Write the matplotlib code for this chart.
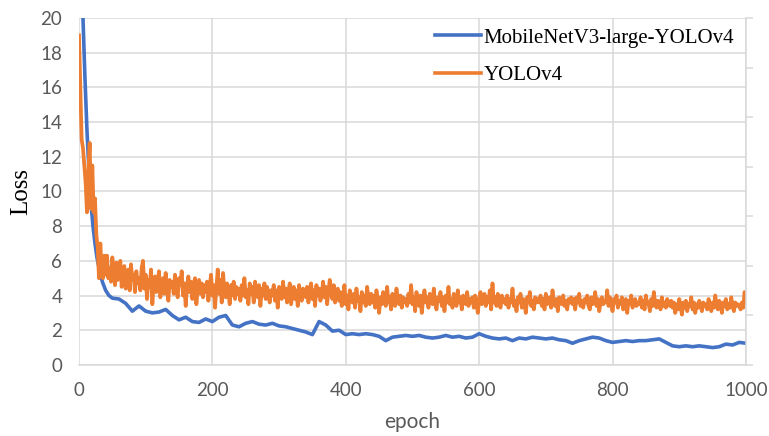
import numpy as np
import matplotlib.pyplot as plt

# --- loss curves ---
mnv3_epoch_head = [0, 3, 6, 9, 12, 15, 18, 21, 24, 27, 30, 35, 40, 45]
mnv3_loss_head = [28, 23, 20, 16.5, 13.5, 11.2, 9.3, 8.0, 7.0, 6.2, 5.6, 4.8, 4.3, 4.0]
# every 10 epochs from 50 to 1000
mnv3_loss_tail = [
    3.85, 3.8, 3.55, 3.1, 3.4, 3.1, 3.0, 3.05, 3.2, 2.85,
    2.6, 2.75, 2.5, 2.45, 2.65, 2.5, 2.75, 2.85, 2.3, 2.2,
    2.4, 2.5, 2.35, 2.3, 2.4, 2.25, 2.2, 2.1, 2.0, 1.9,
    1.75, 2.5, 2.3, 1.95, 2.0, 1.75, 1.8, 1.75, 1.8, 1.75,
    1.65, 1.4, 1.6, 1.65, 1.7, 1.65, 1.7, 1.6, 1.55, 1.6,
    1.7, 1.6, 1.65, 1.55, 1.6, 1.8, 1.65, 1.55, 1.5, 1.55,
    1.4, 1.55, 1.5, 1.6, 1.55, 1.5, 1.55, 1.45, 1.4, 1.25,
    1.4, 1.5, 1.6, 1.55, 1.4, 1.3, 1.35, 1.4, 1.35, 1.4,
    1.4, 1.45, 1.5, 1.3, 1.1, 1.05, 1.1, 1.05, 1.1, 1.05,
    1.0, 1.05, 1.2, 1.15, 1.3, 1.25,
]

yolo_epoch_head = [0, 2, 4, 6, 8, 10, 12, 14, 16, 18, 20, 22, 24, 26, 28, 30, 32, 34, 36, 38]
yolo_loss_head = [19.0, 16.0, 13.0, 12.5, 11.5, 10.5, 8.8, 11.0, 12.8, 9.0,
                  11.5, 8.8, 9.6, 7.5, 6.8, 5.0, 7.0, 5.5, 5.0, 6.3]
# every 2 epochs from 40 to 1000, one row = 50 epochs
yolo_loss_tail = [
    5.2, 6.3, 5.0, 5.6, 4.8, 6.2, 5.4, 4.6, 5.9, 4.9, 5.3, 6.0, 4.5, 5.1, 5.7, 4.4, 5.0, 5.5, 4.3, 5.8, 4.9, 5.2, 4.2, 5.4, 4.7,
    5.0, 4.3, 5.6, 6.0, 4.4, 5.2, 3.8, 4.9, 4.5, 5.5, 3.5, 4.7, 5.1, 4.2, 4.8, 5.4, 3.9, 4.6, 5.0, 4.1, 5.3, 4.4, 3.7, 4.9, 4.5,
    4.8, 4.1, 5.2, 4.4, 3.9, 5.0, 4.6, 5.4, 4.0, 4.7, 3.4, 4.5, 5.1, 4.2, 4.8, 3.8, 4.6, 5.0, 3.5, 4.4, 4.9, 4.1, 4.7, 3.9, 4.6,
    4.2, 4.8, 3.7, 4.5, 5.2, 4.0, 4.6, 3.3, 4.4, 5.5, 4.1, 4.9, 3.6, 5.3, 4.3, 3.9, 4.7, 4.2, 3.5, 4.6, 4.0, 4.8, 3.8, 4.5, 4.1,
    4.4, 3.7, 4.6, 4.0, 5.0, 3.9, 4.3, 3.5, 4.7, 4.1, 4.5, 3.6, 4.8, 4.2, 3.9, 4.6, 3.4, 4.4, 4.0, 4.7, 3.8, 4.5, 4.1, 3.6, 4.3,
    4.0, 4.6, 3.7, 4.3, 3.3, 4.5, 4.1, 3.8, 4.8, 3.9, 4.4, 3.6, 4.2, 4.7, 3.5, 4.0, 4.5, 3.8, 4.3, 3.4, 4.6, 4.0, 3.7, 4.4, 4.1,
    3.9, 4.5, 3.6, 4.2, 4.7, 3.8, 4.3, 3.4, 4.6, 4.0, 4.4, 3.7, 4.1, 4.8, 3.9, 4.5, 3.5, 4.2, 4.9, 4.3, 3.8, 4.6, 3.6, 4.1, 4.4,
    3.7, 4.2, 3.4, 3.9, 4.6, 3.5, 4.0, 3.2, 4.3, 3.8, 3.6, 4.1, 3.3, 4.4, 3.7, 3.9, 3.1, 4.2, 3.6, 4.0, 3.4, 4.5, 3.8, 3.5, 4.1,
    3.6, 4.0, 3.3, 4.3, 3.8, 3.0, 3.9, 3.5, 4.2, 3.7, 3.4, 4.5, 3.6, 3.9, 3.2, 4.1, 3.7, 3.4, 4.4, 3.8, 3.5, 4.0, 3.3, 3.9, 3.6,
    3.8, 3.4, 4.1, 3.6, 4.6, 3.5, 3.9, 3.1, 4.2, 3.7, 3.4, 4.0, 3.0, 3.8, 4.3, 3.6, 3.9, 3.3, 4.1, 3.7, 3.5, 4.4, 3.6, 3.2, 3.9,
    3.7, 4.2, 3.4, 3.9, 3.1, 4.0, 3.6, 4.5, 3.5, 3.8, 3.3, 4.1, 3.7, 3.4, 4.3, 3.6, 3.9, 3.2, 4.0, 3.7, 3.5, 4.2, 3.4, 3.8, 3.6,
    3.9, 3.3, 4.0, 3.6, 3.0, 3.8, 4.2, 3.5, 3.7, 4.1, 3.4, 3.9, 3.6, 4.3, 3.2, 4.7, 3.6, 3.9, 3.4, 4.1, 3.7, 3.3, 4.0, 3.6, 3.8,
    3.5, 4.0, 3.3, 3.8, 3.6, 4.4, 3.4, 3.7, 3.1, 3.9, 3.6, 4.1, 3.3, 3.8, 3.5, 3.0, 3.9, 3.6, 4.2, 3.4, 3.7, 3.2, 3.9, 3.6, 3.8,
    3.6, 4.0, 3.4, 3.8, 3.2, 4.1, 3.5, 3.7, 3.9, 3.3, 4.3, 3.6, 3.4, 3.8, 3.1, 3.9, 3.7, 3.5, 4.0, 3.4, 3.7, 3.2, 3.8, 3.6, 3.9,
    3.5, 3.8, 3.2, 3.9, 3.6, 4.1, 3.4, 3.7, 3.3, 3.8, 3.6, 4.0, 3.4, 3.2, 3.9, 3.5, 3.7, 4.2, 3.4, 3.8, 3.1, 3.6, 3.9, 3.5, 3.7,
    3.6, 4.3, 3.4, 3.9, 3.5, 3.1, 3.8, 3.6, 4.0, 3.3, 3.7, 3.5, 3.9, 3.2, 3.6, 3.8, 3.0, 3.7, 3.5, 4.0, 3.3, 3.6, 3.8, 3.4, 3.6,
    3.5, 3.9, 3.3, 3.7, 3.2, 4.0, 3.5, 3.6, 3.1, 3.8, 3.4, 4.2, 3.5, 3.3, 3.7, 3.6, 3.2, 3.9, 3.4, 3.6, 3.3, 3.8, 3.5, 3.4, 3.7,
    3.3, 3.6, 3.0, 3.5, 3.2, 3.8, 3.4, 2.9, 3.6, 3.3, 3.7, 3.1, 3.5, 3.4, 3.9, 3.2, 3.6, 3.0, 3.5, 3.3, 3.7, 3.4, 3.1, 3.6, 3.4,
    3.5, 3.2, 3.8, 3.4, 3.1, 3.6, 3.3, 4.0, 3.4, 3.2, 3.7, 3.5, 3.0, 3.6, 3.4, 3.8, 3.2, 3.5, 3.3, 3.9, 3.4, 3.1, 3.6, 3.4, 3.5,
    3.4, 3.2, 3.6, 3.3, 4.2, 3.6,
]

mnv3_epoch = np.concatenate([mnv3_epoch_head, np.arange(50, 1001, 10)])
mnv3_loss = np.array(mnv3_loss_head + mnv3_loss_tail)
yolo_epoch = np.concatenate([yolo_epoch_head, np.arange(40, 1001, 2)])
yolo_loss = np.array(yolo_loss_head + yolo_loss_tail)

x_ticks = [0, 200, 400, 600, 800, 1000]
y_ticks = [0, 2, 4, 6, 8, 10, 12, 14, 16, 18, 20]

BLUE = "#4472C4"
ORANGE = "#ED7D31"
GRID = "#d9d9d9"
TEXT = "#595959"

fig = plt.figure(figsize=(7.69, 4.36), dpi=100)
ax = fig.add_axes([0.1027, 0.163, 0.8673, 0.7957])

ax.plot(mnv3_epoch, mnv3_loss, color=BLUE, lw=2.6, label="MobileNetV3-large-YOLOv4",
        solid_joinstyle="round")
ax.plot(yolo_epoch, yolo_loss, color=ORANGE, lw=2.7, label="YOLOv4",
        solid_joinstyle="round")

ax.set_xlim(0, 1000)
ax.set_ylim(0, 20)
ax.set_xticks(x_ticks)
ax.set_yticks(y_ticks)
ax.grid(True, color=GRID, lw=1.1)
ax.set_axisbelow(True)
ax.tick_params(length=0, labelsize=13.5, labelcolor=TEXT, labelfontfamily="Lato")
ax.tick_params(axis="x", pad=12)
ax.tick_params(axis="y", pad=12)
for s in ("top", "left", "right"):
    ax.spines[s].set_visible(False)
ax.spines["bottom"].set_color(GRID)
ax.spines["bottom"].set_linewidth(1.1)

ax.set_xlabel("epoch", fontsize=15, color=TEXT, family="Lato", labelpad=10)
ax.set_ylabel("Loss", fontsize=18, family="Liberation Serif", labelpad=6)

# secondary axis on the right: only a spine with short tick marks
ax2 = ax.twinx()
ax2.set_ylim(0, 7)
ax2.set_yticks(range(8))
ax2.set_yticklabels([])
ax2.tick_params(axis="y", length=5, width=1.1, color=GRID, direction="out")
for s in ("top", "left", "bottom"):
    ax2.spines[s].set_visible(False)
ax2.spines["right"].set_color(GRID)
ax2.spines["right"].set_linewidth(1.1)

leg = ax.legend(loc="upper right", bbox_to_anchor=(1.01, 1.025), frameon=False,
                prop={"family": "Liberation Serif", "size": 15},
                handlelength=2.2, handletextpad=0.1, labelspacing=0.85)
for line in leg.get_lines():
    line.set_linewidth(2.6)

fig.savefig("out.png", dpi=100)
